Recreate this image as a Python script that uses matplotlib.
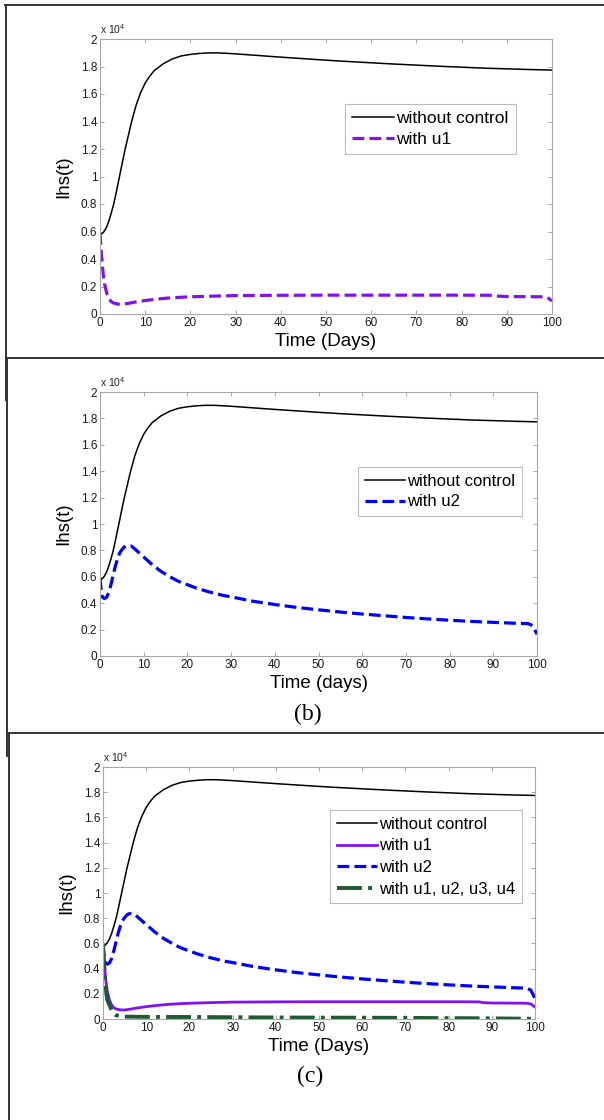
import numpy as np
import matplotlib
matplotlib.use("Agg")
import matplotlib.pyplot as plt
from matplotlib.lines import Line2D
from matplotlib.ticker import FuncFormatter

plt.rcParams['font.family'] = ['Liberation Sans', 'DejaVu Sans']
plt.rcParams['mathtext.default'] = 'regular'

# ---- data (Ihs(t)) ----
t_base = [0, 0.5, 1, 1.5, 2, 2.5, 3, 3.5, 4, 4.5, 5, 5.5, 6, 7, 8, 9, 10, 11, 12, 13,
          14, 16, 18, 20, 22, 24, 26, 28, 30, 35, 40, 45, 50, 55, 60, 65, 70, 75, 80,
          85, 90, 95, 100]
ihs_base = [5800, 5850, 6050, 6350, 6800, 7350, 7950, 8700, 9500, 10300, 11100, 11900,
            12600, 14000, 15200, 16100, 16800, 17300, 17700, 17950, 18200, 18550, 18770,
            18880, 18950, 18990, 18990, 18960, 18920, 18800, 18680, 18570, 18460, 18360,
            18270, 18180, 18100, 18020, 17950, 17880, 17830, 17780, 17740]

t_u1 = [0, 0.25, 0.5, 0.75, 1, 1.5, 2, 2.5, 3, 4, 5, 6, 7, 8, 10, 12, 15, 18, 20, 25,
        30, 40, 50, 60, 70, 80, 87, 88, 90, 95, 98, 99, 100]
ihs_u1 = [5900, 4600, 3600, 2800, 2200, 1500, 1100, 900, 800, 720, 720, 760, 820, 880,
          980, 1060, 1160, 1220, 1250, 1300, 1340, 1360, 1370, 1370, 1370, 1370, 1360,
          1300, 1270, 1260, 1250, 1200, 950]

t_u2 = [0, 0.25, 0.5, 1, 1.5, 2, 2.5, 3, 3.5, 4, 4.5, 5, 5.5, 6, 6.5, 7, 7.5, 8, 9, 10,
        11, 12, 13, 14, 15, 16, 18, 20, 22, 25, 28, 30, 35, 40, 45, 50, 55, 60, 65, 70,
        75, 80, 85, 90, 95, 98, 99, 100]
ihs_u2 = [5900, 5000, 4500, 4350, 4450, 4800, 5400, 6100, 6800, 7350, 7800, 8050, 8250,
          8350, 8380, 8350, 8250, 8100, 7800, 7500, 7200, 6900, 6650, 6400, 6200, 6000,
          5650, 5400, 5150, 4850, 4600, 4480, 4150, 3900, 3680, 3500, 3330, 3180, 3050,
          2920, 2810, 2710, 2620, 2550, 2480, 2450, 2300, 1650]

t_all = [0, 0.25, 0.5, 0.75, 1, 1.5, 2, 2.5, 3, 4, 5, 7, 10, 15, 20, 30, 40, 50, 60, 70,
         80, 90, 95, 100]
ihs_all = [5900, 4300, 3000, 2100, 1500, 1100, 700, 420, 300, 220, 190, 180, 170, 160,
           160, 140, 120, 110, 100, 90, 70, 50, 30, 20]

x_ticks = list(range(0, 101, 10))
y_ticks = list(range(0, 20001, 2000))

PURPLE = '#8012EE'
BLUE = '#0000FF'
GREEN = '#1F5A33'

W, H = 604, 1120
fig = plt.figure(figsize=(W / 100, H / 100), dpi=100)


def px_axes(x0, y0, x1, y1):
    # pixel box (top-left origin) -> figure fraction
    return fig.add_axes([x0 / W, 1 - y1 / H, (x1 - x0) / W, (y1 - y0) / H])


def style(ax, xlabel):
    ax.set_xlim(0, 100)
    ax.set_ylim(0, 20000)
    ax.set_xticks(x_ticks)
    ax.set_yticks(y_ticks)
    ax.yaxis.set_major_formatter(FuncFormatter(lambda v, p: '%g' % (v / 1e4)))
    ax.tick_params(direction='in', length=3, width=0.6, color='#999999',
                   labelsize=8.5, labelcolor='#1a1a1a', top=True, right=True, pad=2)
    for s in ax.spines.values():
        s.set_color('#a8a8a8')
        s.set_linewidth(0.8)
    ax.set_xlabel(xlabel, fontsize=13.5, labelpad=3)
    ax.set_ylabel('Ihs(t)', fontsize=13.5, labelpad=6)
    ax.text(0.0, 1.012, r'x 10$^{4}$', transform=ax.transAxes, fontsize=7.5,
            color='#222222', ha='left', va='bottom')


def legend(ax, x1, y1, fs, spacing):
    lg = ax.legend(loc='upper right', bbox_to_anchor=(x1, y1), fontsize=fs,
                   handlelength=2.4, handletextpad=0.15, labelspacing=spacing,
                   borderpad=0.4, borderaxespad=0, fancybox=False, framealpha=1)
    lg.get_frame().set_edgecolor('#bbbbbb')
    lg.get_frame().set_linewidth(0.8)


# ---- panel 1 ----
ax1 = px_axes(100, 39, 552, 314)
ax1.plot(t_base, ihs_base, color='black', lw=1.1, label='without control')
ax1.plot(t_u1, ihs_u1, color=PURPLE, lw=2.3, ls='--', label='with u1')
style(ax1, 'Time (Days)')
legend(ax1, 0.92, 0.764, 12.5, 0.35)

# ---- panel 2 ----
ax2 = px_axes(100, 392, 537, 656)
ax2.plot(t_base, ihs_base, color='black', lw=1.1, label='without control')
ax2.plot(t_u2, ihs_u2, color=BLUE, lw=2.3, ls='--', label='with u2')
style(ax2, 'Time (days)')
legend(ax2, 0.966, 0.716, 12, 0.35)
fig.text(308 / W, 1 - 714 / H, '(b)', fontsize=17, ha='center', va='center',
         family=['Liberation Serif', 'DejaVu Serif'])

# ---- panel 3 ----
ax3 = px_axes(103, 767, 535, 1019)
ax3.plot(t_base, ihs_base, color='black', lw=1.1, label='without control')
ax3.plot(t_u1, ihs_u1, color=PURPLE, lw=2.0, ls='-', label='with u1')
ax3.plot(t_u2, ihs_u2, color=BLUE, lw=2.3, ls='--', label='with u2')
ax3.plot(t_all, ihs_all, color=GREEN, lw=2.8, ls='-.', label='with u1, u2, u3, u4')
style(ax3, 'Time (Days)')
legend(ax3, 0.97, 0.829, 12, 0.4)
fig.text(310 / W, 1 - 1076 / H, '(c)', fontsize=17, ha='center', va='center',
         family=['Liberation Serif', 'DejaVu Serif'])

# ---- table borders around the panels ----
border = [((5, 604), (4.5, 4.5)), ((5.5, 5.5), (4.5, 400)),
          ((7, 604), (357.5, 357.5)), ((7.5, 7.5), (357.5, 756)),
          ((7, 604), (733, 733)), ((8.5, 8.5), (733, 1120))]
for xs, ys in border:
    fig.add_artist(Line2D([x / W for x in xs], [1 - y / H for y in ys],
                          transform=fig.transFigure, color='#333333', lw=1.4))

fig.savefig('out.png', dpi=100)
